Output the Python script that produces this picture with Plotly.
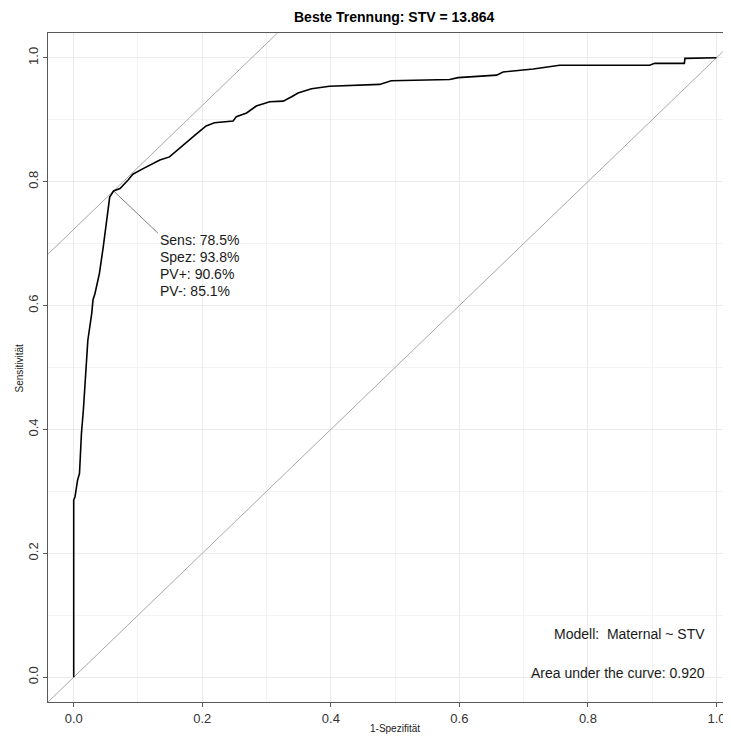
import plotly.graph_objects as go

# ROC curve points (1-Spezifität, Sensitivität)
fpr = [0, 0, 0.002, 0.006, 0.009, 0.012, 0.015, 0.020, 0.022, 0.028,
       0.030, 0.033, 0.040, 0.046, 0.051, 0.056, 0.062, 0.072, 0.085, 0.092,
       0.108, 0.123, 0.134, 0.149, 0.160, 0.170, 0.191, 0.206, 0.219, 0.248,
       0.253, 0.269, 0.284, 0.305, 0.326, 0.339, 0.349, 0.370, 0.398, 0.476,
       0.494, 0.585, 0.598, 0.658, 0.668, 0.715, 0.756, 0.896, 0.904, 0.950,
       0.951, 1.0]
tpr = [0, 0.286, 0.291, 0.318, 0.329, 0.393, 0.431, 0.501, 0.544, 0.587,
       0.609, 0.619, 0.652, 0.695, 0.738, 0.775, 0.785, 0.789, 0.803, 0.812,
       0.821, 0.829, 0.835, 0.840, 0.850, 0.859, 0.877, 0.890, 0.895, 0.898,
       0.905, 0.911, 0.922, 0.929, 0.930, 0.937, 0.943, 0.950, 0.954, 0.957,
       0.963, 0.965, 0.968, 0.972, 0.977, 0.982, 0.988, 0.988, 0.991, 0.991,
       0.999, 1.0]

# optimal cut-off
best_fpr = 0.062
best_sens = 0.785
youden = best_sens - best_fpr
stats_labels = ["Sens: 78.5%", "Spez: 93.8%", "PV+: 90.6%", "PV-: 85.1%"]
title_text = "Beste Trennung: STV = 13.864"
model_text = "Modell:  Maternal ~ STV"
auc_text = "Area under the curve: 0.920"
x_ticks = [0.0, 0.2, 0.4, 0.6, 0.8, 1.0]
y_ticks = [0.0, 0.2, 0.4, 0.6, 0.8, 1.0]

FONT = "Liberation Sans, Arial, sans-serif"
xr = [-0.04, 1.0226]
yr = [-0.04, 1.04]

fig = go.Figure()

# diagonal
fig.add_trace(go.Scatter(x=[-0.04, 1.08], y=[-0.04, 1.08], mode="lines",
                         line=dict(color="#a8a8a8", width=1), hoverinfo="skip"))
# tangent (Youden line, slope 1)
fig.add_trace(go.Scatter(x=[-0.04, 1.04 - youden], y=[-0.04 + youden, 1.04], mode="lines",
                         line=dict(color="#a8a8a8", width=1), hoverinfo="skip"))
# pointer line
fig.add_trace(go.Scatter(x=[best_fpr, 0.131], y=[best_sens, 0.717], mode="lines",
                         line=dict(color="#808080", width=1), hoverinfo="skip"))
# ROC curve
fig.add_trace(go.Scatter(x=fpr, y=tpr, mode="lines",
                         line=dict(color="#000000", width=1.6), hoverinfo="skip"))

ann = []
for i, t in enumerate(stats_labels):
    ann.append(dict(x=0.131, y=0.7055 - i * 0.0275, xref="x", yref="y", text=t,
                    showarrow=False, xanchor="left", yanchor="middle",
                    font=dict(family=FONT, size=14, color="#1a1a1a")))
ann.append(dict(x=0.985, y=0.069, xref="x", yref="y", text=model_text, showarrow=False,
                xanchor="right", yanchor="middle", font=dict(family=FONT, size=14, color="#1a1a1a")))
ann.append(dict(x=0.985, y=0.0065, xref="x", yref="y", text=auc_text, showarrow=False,
                xanchor="right", yanchor="middle", font=dict(family=FONT, size=14, color="#1a1a1a")))
ann.append(dict(x=0.508, y=1.024, xref="paper", yref="paper", text="<b>" + title_text + "</b>",
                showarrow=False, xanchor="center", yanchor="middle",
                font=dict(family=FONT, size=14, color="#000000")))
ann.append(dict(x=0.508, y=-0.039, xref="paper", yref="paper", text="1-Spezifität",
                showarrow=False, xanchor="center", yanchor="middle",
                font=dict(family=FONT, size=10, color="#1a1a1a")))
ann.append(dict(x=-0.041, y=0.5, xref="paper", yref="paper", text="Sensitivität",
                showarrow=False, xanchor="center", yanchor="middle", textangle=-90,
                font=dict(family=FONT, size=10, color="#1a1a1a")))

# the page body has an 8px default margin; compensate so the plot lands where the reference has it
OFF = 8
fig.update_layout(
    width=731 - OFF, height=737 - OFF,
    margin=dict(l=48 - OFF, r=0, t=33 - OFF, b=35, pad=0),
    paper_bgcolor="white", plot_bgcolor="white",
    showlegend=False,
    annotations=ann,
    font=dict(family=FONT),
)
axis_common = dict(
    showline=True, linecolor="#595959", linewidth=1,
    ticks="outside", ticklen=4, tickcolor="#595959", tickwidth=1,
    showgrid=True, gridcolor="#ebebeb", gridwidth=1,
    zeroline=False,
    tickfont=dict(family=FONT, size=13, color="#333333"),
    minor=dict(dtick=0.1, showgrid=True, gridcolor="#f3f3f3", gridwidth=1, ticks=""),
)
fig.update_xaxes(range=xr, tickvals=x_ticks, ticktext=[f"{v:.1f}" for v in x_ticks],
                 mirror=True, ticklabeloverflow="allow", **axis_common)
fig.update_yaxes(range=yr, tickvals=y_ticks, ticktext=[f"{v:.1f}" for v in y_ticks],
                 tickangle=-90, **axis_common)

fig.write_html("out.html")
